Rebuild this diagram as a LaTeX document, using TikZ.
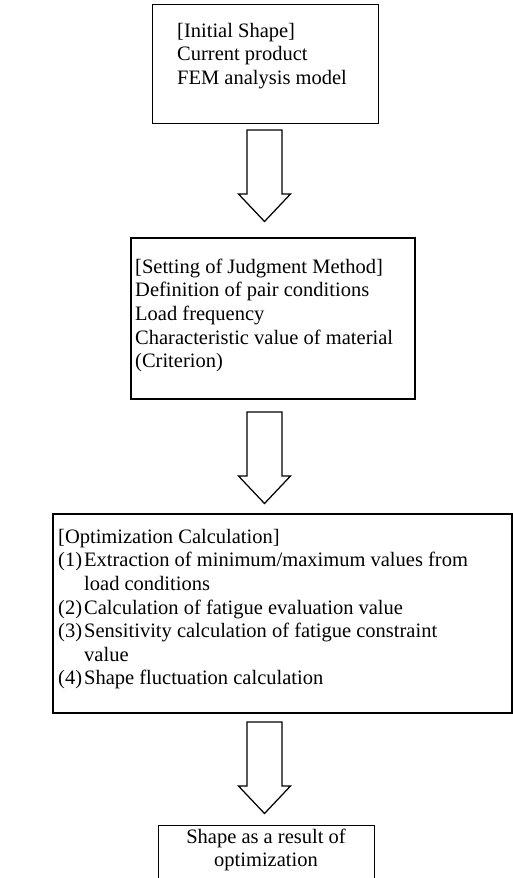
\documentclass[tikz,border=0pt]{standalone}
\usepackage{fontspec}
\setmainfont{Liberation Serif}
\usetikzlibrary{calc}
\newcommand\blockarrowat[1]{\draw[blockarrow] (#1) ++(-17.5,0) -- ++(35,0) -- ++(0,64) -- ++(8.5,0) -- ++(-26,27.5) -- ++(-26,-27.5) -- ++(8.5,0) -- cycle;}
\begin{document}
\begin{tikzpicture}[x=1pt,y=-1pt,
  box/.style={draw, line width=1.3pt, rectangle, anchor=north west, inner sep=0pt},
  txt/.style={anchor=north west, inner sep=0pt, align=left, font=\fontsize{20.5}{23.6}\selectfont},
  blockarrow/.style={draw, line width=1.25pt, fill=white, line join=miter}]
\useasboundingbox (0,0) rectangle (513,878);
% boxes
\node[box, minimum width=226pt, minimum height=119pt] (b1) at (152,4) {};
\node[txt] (t1) at (177,20.5) {\strut[Initial Shape]\\Current product\\FEM analysis model};
\node[box, line width=1.9pt, minimum width=284pt, minimum height=161pt] (b2) at (130,237) {};
\node[txt] (t2) at (135,256.5) {\strut[Setting of Judgment Method]\\Definition of pair conditions\\Load frequency\\Characteristic value of material\\(Criterion)};
\node[box, line width=1.6pt, minimum width=459pt, minimum height=199pt] (b3) at (52,513) {};
\node[txt] (t3) at (58,526.5) {\strut[Optimization Calculation]\\
\makebox[26pt][l]{(1)}Extraction of minimum/maximum values from\\
\hspace*{26pt}load conditions\\
\makebox[26pt][l]{(2)}Calculation of fatigue evaluation value\\
\makebox[26pt][l]{(3)}Sensitivity calculation of fatigue constraint\\
\hspace*{26pt}value\\
\makebox[26pt][l]{(4)}Shape fluctuation calculation};
\begin{scope}
\clip (0,0) rectangle (513,878);
\node[box, minimum width=216pt, minimum height=80pt] (b4) at (158,825) {};
\end{scope}
\node[txt, anchor=north, align=center] (t4) at (266,826.5) {\strut Shape as a result of\\optimization};
% block arrows
\coordinate (a1) at (264.5,130);
\coordinate (a2) at (264.5,412);
\coordinate (a3) at (264.5,722);
\blockarrowat{a1}
\blockarrowat{a2}
\blockarrowat{a3}
\end{tikzpicture}
\end{document}
